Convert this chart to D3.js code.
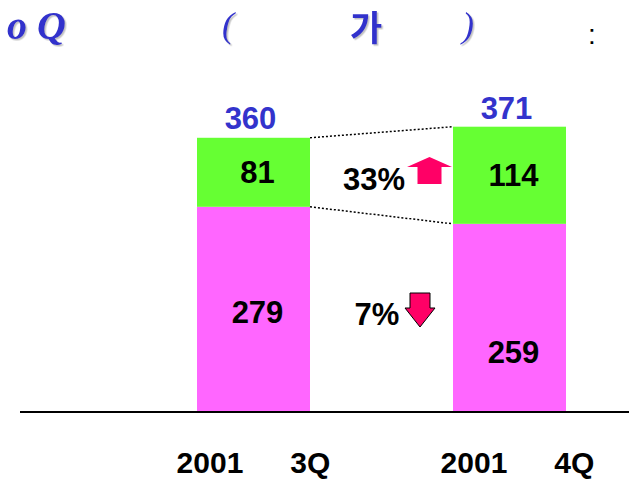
<!DOCTYPE html>
<html>
<head>
<meta charset="utf-8">
<script src="https://cdn.jsdelivr.net/npm/d3@7"></script>
<style>
  html, body { margin: 0; padding: 0; background: #fff; }
  svg { display: block; }
</style>
</head>
<body>
<div id="chart"></div>
<script>
// ---- data ----
const categories = ["2001 3Q", "2001 4Q"];
const tickYears = ["2001", "2001"];
const tickQuarters = ["3Q", "4Q"];
const bottomValues = [279, 259];   // pink segment
const topValues = [81, 114];       // green segment
const totals = [360, 371];
const changeLabels = ["33%", "7%"]; // top segment change, bottom segment change
const changeDirections = ["up", "down"];
const titleParts = ["o Q", "(", "가", ")", ":"];

// ---- setup ----
const W = 629, H = 480;
const svg = d3.select("#chart").append("svg").attr("width", W).attr("height", H);

const x = d3.scaleBand().domain(categories).range([197, 566]).paddingInner(0.5586).paddingOuter(0);
const y = d3.scaleLinear().domain([0, 400]).range([444.5, 103.7]);
const axisY = 412;

const colors = { bottom: "#FF66FF", top: "#66FF33", total: "#3333CC", arrow: "#FF0066" };

const defs = svg.append("defs");
// clip bars at the axis line
defs.append("clipPath").attr("id", "plotClip")
  .append("rect").attr("x", 0).attr("y", 0).attr("width", W).attr("height", axisY);
// soft text shadow for title
const flt = defs.append("filter").attr("id", "tshadow")
  .attr("x", "-10%").attr("y", "-10%").attr("width", "130%").attr("height", "130%");
flt.append("feDropShadow").attr("dx", 1.5).attr("dy", 1.5).attr("stdDeviation", 0.4)
  .attr("flood-color", "#999").attr("flood-opacity", 0.6);

const rows = categories.map((c, i) => ({ c, b: bottomValues[i], t: topValues[i], tot: totals[i], i }));

const bars = svg.append("g").attr("clip-path", "url(#plotClip)");
bars.selectAll("rect.bottom").data(rows).join("rect")
  .attr("x", d => x(d.c)).attr("width", x.bandwidth())
  .attr("y", d => y(d.b)).attr("height", d => y(0) - y(d.b))
  .attr("fill", colors.bottom);
bars.selectAll("rect.top").data(rows).join("rect")
  .attr("x", d => x(d.c)).attr("width", x.bandwidth())
  .attr("y", d => y(d.b + d.t)).attr("height", d => y(d.b) - y(d.b + d.t))
  .attr("fill", colors.top);

// dotted connectors
const c0 = rows[0], c1 = rows[1];
[[c0.b + c0.t, c1.b + c1.t], [c0.b, c1.b]].forEach(([v0, v1]) => {
  svg.append("line")
    .attr("x1", x(c0.c) + x.bandwidth()).attr("y1", y(v0))
    .attr("x2", x(c1.c)).attr("y2", y(v1))
    .attr("stroke", "#000").attr("stroke-width", 1.5).attr("stroke-dasharray", "2,2");
});

// axis line
svg.append("line").attr("x1", 20).attr("x2", W).attr("y1", axisY).attr("y2", axisY)
  .attr("stroke", "#000").attr("stroke-width", 2);

const numFont = "'Liberation Sans', Arial, sans-serif";

// totals
svg.selectAll("text.total").data(rows).join("text")
  .attr("x", d => x(d.c) + x.bandwidth() / 2 - 3)
  .attr("y", d => y(d.tot) - 9)
  .attr("text-anchor", "middle").attr("font-family", numFont).attr("font-weight", "bold")
  .attr("font-size", 31).attr("fill", colors.total).text(d => d.tot);

// top segment labels
svg.selectAll("text.topv").data(rows).join("text")
  .attr("x", d => x(d.c) + x.bandwidth() / 2 + 4)
  .attr("y", d => (y(d.b) + y(d.b + d.t)) / 2 + 11)
  .attr("text-anchor", "middle").attr("font-family", numFont).attr("font-weight", "bold")
  .attr("font-size", 31).attr("fill", "#000").text(d => d.t);

// bottom segment labels
const bottomLabelY = [323, 363];
svg.selectAll("text.botv").data(rows).join("text")
  .attr("x", d => x(d.c) + x.bandwidth() / 2 + 4)
  .attr("y", d => bottomLabelY[d.i])
  .attr("text-anchor", "middle").attr("font-family", numFont).attr("font-weight", "bold")
  .attr("font-size", 31).attr("fill", "#000").text(d => d.b);

// change labels
svg.append("text").attr("x", 374).attr("y", 190).attr("text-anchor", "middle")
  .attr("font-family", numFont).attr("font-weight", "bold").attr("font-size", 31)
  .text(changeLabels[0]);
svg.append("text").attr("x", 377).attr("y", 325).attr("text-anchor", "middle")
  .attr("font-family", numFont).attr("font-weight", "bold").attr("font-size", 31)
  .text(changeLabels[1]);

// arrows
function arrowPath(cx, top, bottom, headW, shaftW, headLen, dir) {
  const hw = headW / 2, sw = shaftW / 2;
  if (dir === "up") {
    const hb = top + headLen;
    return `M${cx},${top} L${cx + hw},${hb} L${cx + sw},${hb} L${cx + sw},${bottom} L${cx - sw},${bottom} L${cx - sw},${hb} L${cx - hw},${hb} Z`;
  } else {
    const hb = bottom - headLen;
    return `M${cx},${bottom} L${cx + hw},${hb} L${cx + sw},${hb} L${cx + sw},${top} L${cx - sw},${top} L${cx - sw},${hb} L${cx - hw},${hb} Z`;
  }
}
svg.append("path").attr("d", arrowPath(429.5, 157, 184, 45, 24, 10, changeDirections[0]))
  .attr("fill", colors.arrow);
svg.append("path").attr("d", arrowPath(420, 293, 327, 30, 20, 19, changeDirections[1]))
  .attr("fill", colors.arrow).attr("stroke", "#000").attr("stroke-width", 1);

// x tick labels
rows.forEach(d => {
  const t = svg.append("text").attr("x", x(d.c) + x.bandwidth() / 2 + (d.i === 0 ? 0 : 8)).attr("y", 473)
    .attr("text-anchor", "middle").attr("font-family", numFont).attr("font-weight", "bold")
    .attr("font-size", 30).attr("fill", "#000");
  t.append("tspan").text(tickYears[d.i]);
  t.append("tspan").attr("dx", 47).text(tickQuarters[d.i]);
});

// title
const serif = "'Liberation Serif', 'Times New Roman', serif";
const titleItems = [
  { t: titleParts[0], x: 7, y: 39, f: serif, s: 40, w: "bold", st: "italic", c: colors.total },
  { t: titleParts[1], x: 222, y: 37, f: serif, s: 36, w: "normal", st: "italic", c: colors.total },
  { t: titleParts[2], x: 350, y: 41, f: "'Noto Sans CJK KR', sans-serif", s: 35, w: "bold", st: "normal", c: colors.total },
  { t: titleParts[3], x: 462, y: 37, f: serif, s: 36, w: "normal", st: "italic", c: colors.total },
];
titleItems.forEach(d => {
  svg.append("text").attr("x", d.x).attr("y", d.y).attr("font-family", d.f)
    .attr("font-size", d.s).attr("font-weight", d.w).attr("font-style", d.st)
    .attr("fill", d.c).attr("filter", "url(#tshadow)").text(d.t);
});
svg.append("text").attr("x", 588).attr("y", 44).attr("font-family", numFont)
  .attr("font-size", 28).attr("fill", "#000").text(titleParts[4]);
</script>
</body>
</html>
